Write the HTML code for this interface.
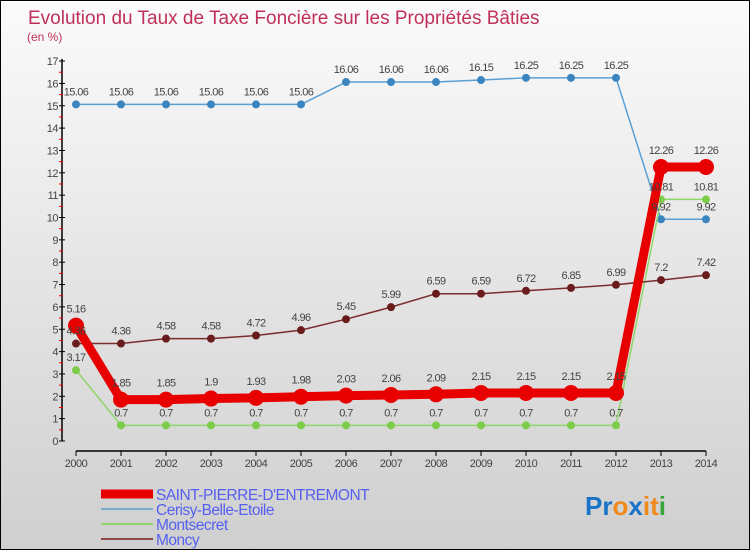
<!DOCTYPE html>
<html><head><meta charset="utf-8"><style>
body{margin:0;width:750px;height:550px;overflow:hidden}
#wrap{position:relative;width:748px;height:548px;border:1px solid #000;background:linear-gradient(#fbfbfb,#cfcfcf)}
svg{position:absolute;left:0;top:0}
text{font-family:"Liberation Sans",sans-serif}
</style></head><body>
<div id="wrap">
<svg id="c" width="750" height="550">
<text x="27" y="23" font-size="19" fill="#c0305a">Evolution du Taux de Taxe Foncière sur les Propriétés Bâties</text>
<text x="26" y="40" font-size="12" fill="#c0305a">(en %)</text>
<text x="584" y="514" font-size="26" font-weight="bold"><tspan fill="#1a73c8">Pr</tspan><tspan fill="#f08a1c">o</tspan><tspan fill="#1a73c8">x</tspan><tspan fill="#f08a1c">i</tspan><tspan fill="#f08a1c">t</tspan><tspan fill="#3aa53a">i</tspan></text>
</svg>
</div>
<script>
const years=["2000","2001","2002","2003","2004","2005","2006","2007","2008","2009","2010","2011","2012","2013","2014"];
const saintPierre=[5.16,1.85,1.85,1.9,1.93,1.98,2.03,2.06,2.09,2.15,2.15,2.15,2.15,12.26,12.26];
const cerisy=[15.06,15.06,15.06,15.06,15.06,15.06,16.06,16.06,16.06,16.15,16.25,16.25,16.25,9.92,9.92];
const montsecret=[3.17,0.7,0.7,0.7,0.7,0.7,0.7,0.7,0.7,0.7,0.7,0.7,0.7,10.81,10.81];
const moncy=[4.36,4.36,4.58,4.58,4.72,4.96,5.45,5.99,6.59,6.59,6.72,6.85,6.99,7.2,7.42];
const yTicks=[0,1,2,3,4,5,6,7,8,9,10,11,12,13,14,15,16,17];
const NS="http://www.w3.org/2000/svg";
const svg=document.getElementById('c');
const X=i=>75+i*45;
const Y=v=>440-v*22.35;
function mk(t,a){const e=document.createElementNS(NS,t);for(const k in a)e.setAttribute(k,a[k]);svg.appendChild(e);return e;}
// y axis
let ya=mk('line',{x1:61,y1:58,x2:61,y2:440,stroke:'#000','stroke-width':1.5});


yTicks.forEach(v=>{
 let t=mk('line',{x1:58,y1:Y(v),x2:64,y2:Y(v),stroke:'#000'});
 
 
 if(v<17){let m=mk('line',{x1:58,y1:Y(v+0.5),x2:62,y2:Y(v+0.5),stroke:'#e00'});
 
 }
 let l=mk('text',{x:57,y:Y(v)+4,'font-size':11,fill:'#444','text-anchor':'end','letter-spacing':'-0.5'});l.textContent=v;
 
 
});
let xa=mk('line',{x1:75,y1:450,x2:705,y2:450,stroke:'#000','stroke-width':1.5});


years.forEach((y,i)=>{
 let t=mk('line',{x1:X(i),y1:450,x2:X(i),y2:455,stroke:'#000'});
 
 
 let l=mk('text',{x:X(i),y:466,'font-size':11,fill:'#444','text-anchor':'middle','letter-spacing':'-0.5'});l.textContent=y;
 
 
});
function series(vals,color,w,r,name,ptColor){
 let p=mk('polyline',{points:vals.map((v,i)=>X(i)+','+Y(v)).join(' '),fill:'none',stroke:color,'stroke-width':w,'stroke-linejoin':'round'});
 
 
 vals.forEach((v,i)=>{
  let c=mk('circle',{cx:X(i),cy:Y(v),r:r,fill:ptColor||color});
  
  
 });
}
function labels(vals,name,off){
 vals.forEach((v,i)=>{
  let l=mk('text',{x:X(i),y:Y(v)-off,'font-size':11,fill:'#444','text-anchor':'middle','letter-spacing':'-0.6'});l.textContent=v;
  
  
 });
}
series(cerisy,'#5a9fd4',1.5,4,'cerisy','#3a85c0');
series(montsecret,'#8fd66a',1.5,4,'montsecret','#7ccc4a');
series(moncy,'#7a2c2c',1.5,4,'moncy','#6a1c1c');
series(saintPierre,'#e80000',9,8,'saint-pierre','#e80000');
labels(cerisy,'cerisy',9);labels(montsecret,'montsecret',9);labels(moncy,'moncy',9);labels(saintPierre,'saint-pierre',13);
// legend
const leg=[['SAINT-PIERRE-D\'ENTREMONT','#e80000',9],['Cerisy-Belle-Etoile','#7aaed0',2],['Montsecret','#8fd66a',2],['Moncy','#8a4848',2]];
leg.forEach((d,i)=>{
 let y=493+i*15;
 let l=mk('line',{x1:100,y1:y,x2:152,y2:y,stroke:d[1],'stroke-width':d[2]});
 
 
 let t=mk('text',{x:155,y:y+6,'font-size':15.5,fill:'#5560f0','letter-spacing':'-0.5'});t.textContent=d[0];
 
 
});
</script>
</body></html>
